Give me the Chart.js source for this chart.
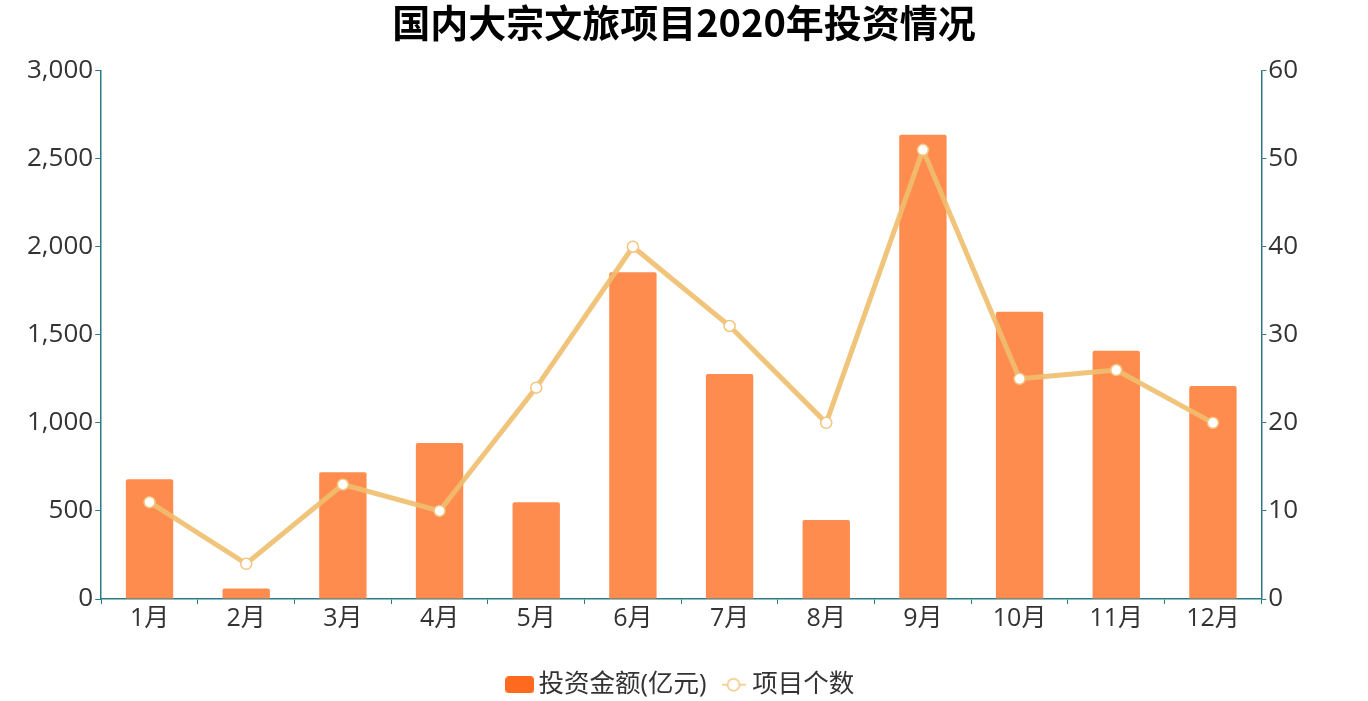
<!DOCTYPE html>
<html>
<head>
<meta charset="utf-8">
<script src="https://cdn.jsdelivr.net/npm/chart.js@4"></script>
<style>
    html, body { margin: 0; padding: 0; background: #fff; }
    #wrap { width: 1368px; height: 701px; }
</style>
</head>
<body>
<div id="wrap"><canvas id="mainChart"></canvas></div>
<script>
const months = ['1月', '2月', '3月', '4月', '5月', '6月', '7月', '8月', '9月', '10月', '11月', '12月'];
const investAmount = [680, 60, 720, 885, 550, 1855, 1278, 449, 2636, 1631, 1409, 1210];
const projectCount = [11, 4, 13, 10, 24, 40, 31, 20, 51, 25, 26, 20];
const leftTicks = [0, 500, 1000, 1500, 2000, 2500, 3000];
const rightTicks = [0, 10, 20, 30, 40, 50, 60];

const axisColor = '#2b7a85';
const fontFamily = "'Open Sans', 'Noto Sans CJK SC', sans-serif";

// legend icons
function boxIcon() {
    const c = document.createElement('canvas');
    c.width = 29; c.height = 17;
    const g = c.getContext('2d');
    g.fillStyle = '#ff6a1f';
    g.beginPath(); g.roundRect(0, 0, 29, 17, 4); g.fill();
    return c;
}
function lineIcon() {
    const c = document.createElement('canvas');
    c.width = 24; c.height = 16;
    const g = c.getContext('2d');
    g.strokeStyle = '#f2c47f';
    g.lineWidth = 1.5;
    g.beginPath(); g.moveTo(0, 8); g.lineTo(24, 8); g.stroke();
    g.fillStyle = '#fff';
    g.beginPath(); g.arc(12, 8, 6, 0, Math.PI * 2); g.fill(); g.stroke();
    return c;
}

// fixed legend height so the x axis can hold the gap above it
const legendHeight = {
    id: 'legendHeight',
    beforeInit(chart) {
        const lg = chart.legend;
        const fit = lg.fit.bind(lg);
        lg.fit = function () { fit(); this.height = 50; };
    }
};

const ctx = document.getElementById('mainChart').getContext('2d');
new Chart(ctx, {
    type: 'bar',
    data: {
        labels: months,
        datasets: [
            {
                type: 'line',
                label: '项目个数',
                data: projectCount,
                yAxisID: 'y1',
                borderColor: 'rgba(240, 190, 110, 0.9)',
                borderWidth: 5,
                pointRadius: 5.5,
                pointBackgroundColor: '#fff',
                pointBorderColor: '#f2c47f',
                pointBorderWidth: 1.5,
                tension: 0,
                order: 0
            },
            {
                type: 'bar',
                label: '投资金额(亿元)',
                data: investAmount,
                yAxisID: 'y',
                backgroundColor: '#ff8c4f',
                borderRadius: 2,
                borderSkipped: 'bottom',
                barPercentage: 0.49,
                categoryPercentage: 1,
                order: 1
            }
        ]
    },
    plugins: [legendHeight],
    options: {
        responsive: true,
        maintainAspectRatio: false,
        animation: false,
        layout: { padding: { left: 25, right: 25, top: 0, bottom: 0 } },
        scales: {
            x: {
                grid: { display: true, drawOnChartArea: false, offset: true, color: axisColor, tickLength: 5, tickColor: axisColor },
                border: { color: axisColor, width: 1.5 },
                ticks: { color: '#333', font: { size: 25, family: fontFamily }, padding: 0 },
                afterFit: axis => { axis.height += 17; }
            },
            y: {
                position: 'left',
                min: 0, max: 3000,
                afterBuildTicks: axis => { axis.ticks = leftTicks.map(v => ({ value: v })); },
                grid: { display: true, drawOnChartArea: false, color: axisColor, tickLength: 6 },
                border: { color: axisColor, width: 1.5 },
                ticks: {
                    color: '#333', font: { size: 26, family: fontFamily }, padding: 2,
                    callback: v => v.toLocaleString('en-US')
                }
            },
            y1: {
                position: 'right',
                min: 0, max: 60,
                afterBuildTicks: axis => { axis.ticks = rightTicks.map(v => ({ value: v })); },
                grid: { display: true, drawOnChartArea: false, color: axisColor, tickLength: 5 },
                border: { color: axisColor, width: 1.5 },
                ticks: { color: '#333', font: { size: 26, family: fontFamily }, padding: 2 },
                afterFit: axis => { axis.width += 43; }
            }
        },
        plugins: {
            title: {
                display: true,
                text: '国内大宗文旅项目2020年投资情况',
                color: '#000',
                font: { size: 38, weight: 'bold', family: "'Noto Sans CJK SC', sans-serif" },
                padding: { top: 0, bottom: 25 }
            },
            legend: {
                position: 'bottom',
                labels: {
                    color: '#333',
                    font: { size: 25.5, family: fontFamily },
                    usePointStyle: true,
                    pointStyleWidth: 12,
                    padding: 21,
                    generateLabels: chart => {
                        const ds = chart.data.datasets;
                        return [
                            { text: ds[1].label, datasetIndex: 1, pointStyle: boxIcon(), fontColor: '#333' },
                            { text: ds[0].label, datasetIndex: 0, pointStyle: lineIcon(), fontColor: '#333' }
                        ];
                    }
                }
            },
            tooltip: { enabled: false }
        }
    }
});
</script>
</body>
</html>
